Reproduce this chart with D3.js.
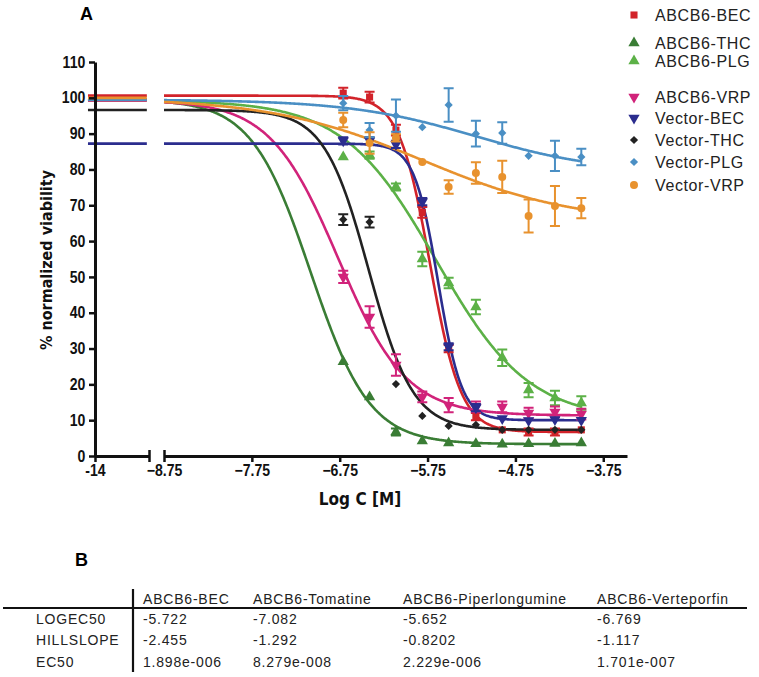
<!DOCTYPE html>
<html>
<head>
<meta charset="utf-8">
<script src="https://cdn.jsdelivr.net/npm/d3@7"></script>
<style>
  body { margin: 0; background: #fff; }
  svg { display: block; }
  .tick text { font-family: "Liberation Sans", Arial, sans-serif; font-weight: bold; }
  .axis-title { font-family: "DejaVu Sans Condensed", sans-serif; font-weight: bold; }
  .legend text, .tbl text { font-family: "Liberation Sans", Arial, sans-serif; }
</style>
</head>
<body>
<script>
// log concentrations (M) of the data points
const logC = [-6.71, -6.41, -6.11, -5.81, -5.51, -5.20, -4.90, -4.60, -4.30, -4.00];

const seriesNames = ['ABCB6-BEC', 'ABCB6-THC', 'ABCB6-PLG', 'ABCB6-VRP', 'Vector-BEC', 'Vector-THC', 'Vector-PLG', 'Vector-VRP'];
const seriesColors = ['#d2232a', '#3a7d35', '#5cb147', '#d1237a', '#2b2d8e', '#222222', '#4a8fc4', '#e8922e'];
const seriesSymbols = ['square', 'triUp', 'triUp', 'triDown', 'triDown', 'diamond', 'diamond', 'circle'];

// mean viability per concentration
const becA = [101.3, 100.2, 91, 68, 30, 11, 7.3, 6.7, 6.7, 7.3];
const thcA = [26.3, 16.5, 6.7, 4.2, 3.6, 3.4, 3.3, 3.4, 3.5, 3.6];
const plgA = [83.5, 84, 75.1, 55, 48.3, 41.6, 27.4, 18.4, 16.2, 14.8];
const vrpA = [50, 38.8, 25.4, 16.5, 14.2, 13.7, 13.7, 12, 12.3, 11.7];
const becV = [88, 88, 87, 71, 30.5, 13.5, 10.5, 9.9, 10.2, 10];
const thcV = [66, 65.3, 20.1, 11.2, 8.4, 8.7, 7.3, 7.3, 7.3, 7.3];
const plgV = [98.5, 91, 95, 91.8, 98, 90, 90.2, 83.8, 83.8, 83.5];
const vrpV = [93.8, 87.4, 88.8, 82.1, 75.1, 79, 77.9, 67, 69.8, 69.2];

// error (SEM)
const becAErr = [1.5, 1.5, 1.5, 1.5, 1, 1, 0.5, 1, 1, 0.5];
const thcAErr = [0.5, 0.5, 1, 0.5, 0.3, 0.3, 0.3, 0.3, 0.3, 0.3];
const plgAErr = [0.5, 1, 1, 2, 1.5, 2, 2.3, 2, 2, 1.9];
const vrpAErr = [1.7, 3, 3, 1.5, 2, 1.5, 1.5, 1.5, 1.5, 1.5];
const becVErr = [1, 1, 1, 1, 1, 1, 0.5, 0.5, 0.5, 0.5];
const thcVErr = [1.5, 1.5, 0, 0, 0, 0, 0, 0, 0, 0];
const plgVErr = [2, 2, 4.5, 0, 4.7, 3.6, 3, 0, 4.2, 2.3];
const vrpVErr = [2, 3, 1, 0, 1.9, 3, 4.5, 4.6, 5.6, 2.8];

// fitted dose-response parameters
const fitTop = [100.6, 99.5, 99.3, 99.3, 87.2, 96.6, 99.5, 100];
const fitBottom = [6.7, 3.3, 10, 11.3, 10, 7.3, 79, 65];
const fitLogEC50 = [-5.722, -7.082, -5.652, -6.769, -5.63, -6.42, -5.2, -5.8];
const fitHill = [-2.455, -1.292, -0.8202, -1.117, -3.2, -1.72, -0.6, -0.5];

// table B
const tblCols = ['ABCB6-BEC', 'ABCB6-Tomatine', 'ABCB6-Piperlongumine', 'ABCB6-Verteporfin'];
const tblRows = ['LOGEC50', 'HILLSLOPE', 'EC50'];
const tblValues = [
    ['-5.722', '-7.082', '-5.652', '-6.769'],
    ['-2.455', '-1.292', '-0.8202', '-1.117'],
    ['1.898e-006', '8.279e-008', '2.229e-006', '1.701e-007']
];

const yTicks = d3.range(0, 111, 10);
const x2Ticks = [-8.75, -7.75, -6.75, -5.75, -4.75, -3.75];

const seriesValues = [becA, thcA, plgA, vrpA, becV, thcV, plgV, vrpV];
const seriesErr = [becAErr, thcAErr, plgAErr, vrpAErr, becVErr, thcVErr, plgVErr, vrpVErr];

const width = 759, height = 677;
const svg = d3.select('body').append('svg')
    .attr('width', width).attr('height', height)
    .attr('viewBox', `0 0 ${width} ${height}`);
svg.append('rect').attr('width', width).attr('height', height).attr('fill', '#fff');

const y = d3.scaleLinear().domain([0, 110]).range([456, 62]);
const x1 = d3.scaleLinear().domain([-14, -13]).range([95, 149]);
const x2 = d3.scaleLinear().domain([-8.75, -3.48]).range([164, 627]);

const fit = (i, x) => fitBottom[i] + (fitTop[i] - fitBottom[i]) / (1 + Math.pow(10, (fitLogEC50[i] - x) * fitHill[i]));

const symbolPath = type => {
    if (type === 'square') return d3.symbol(d3.symbolSquare, 50)();
    if (type === 'circle') return d3.symbol(d3.symbolCircle, 50)();
    if (type === 'triUp' || type === 'triDown') return d3.symbol(d3.symbolTriangle, 55)();
    return d3.symbol(d3.symbolSquare, 34)();
};
const symbolRotate = type => type === 'triDown' ? 180 : (type === 'diamond' ? 45 : 0);

// curves
const line1 = d3.line().x(d => x1(d[0])).y(d => y(d[1]));
const line2 = d3.line().x(d => x2(d[0])).y(d => y(d[1]));
const curves = svg.append('g').attr('fill', 'none').attr('stroke-width', 2.6);
seriesNames.forEach((name, i) => {
    curves.append('path')
        .attr('d', line1([[-14.13, fit(i, -14)], [-13.04, fit(i, -13.04)]]))
        .attr('stroke', seriesColors[i]);
    const xs = d3.range(-8.75, -3.999, 0.01);
    curves.append('path')
        .attr('d', line2(xs.map(x => [x, fit(i, x)])))
        .attr('stroke', seriesColors[i]);
});

// error bars and points
seriesNames.forEach((name, i) => {
    const g = svg.append('g').attr('stroke', seriesColors[i]).attr('fill', seriesColors[i]);
    logC.forEach((c, j) => {
        const v = seriesValues[i][j], e = seriesErr[i][j];
        if (e > 0.8) {
            const px = x2(c);
            g.append('path')
                .attr('d', `M${px},${y(v - e)}V${y(v + e)}M${px - 5},${y(v - e)}H${px + 5}M${px - 5},${y(v + e)}H${px + 5}`)
                .attr('fill', 'none').attr('stroke-width', 2);
        }
        g.append('path')
            .attr('d', symbolPath(seriesSymbols[i]))
            .attr('stroke', 'none')
            .attr('transform', `translate(${x2(c)},${y(v)}) rotate(${symbolRotate(seriesSymbols[i])})`);
    });
});

// axes
const yAxis = svg.append('g').attr('transform', 'translate(95,0)')
    .call(d3.axisLeft(y).tickValues(yTicks).tickSize(6).tickSizeOuter(0).tickPadding(5));
const xAxis1 = svg.append('g').attr('transform', 'translate(0,456)')
    .call(d3.axisBottom(x1).tickValues([-14, -13]).tickFormat(d => d === -14 ? '-14' : '').tickSize(6).tickSizeOuter(0).tickPadding(3));
const xAxis2 = svg.append('g').attr('transform', 'translate(0,456)')
    .call(d3.axisBottom(x2).tickValues(x2Ticks).tickFormat(d3.format('.2f')).tickSize(6).tickSizeOuter(0).tickPadding(3));
[yAxis, xAxis1, xAxis2].forEach(a => {
    a.select('.domain').attr('stroke', '#111').attr('stroke-width', 3);
    a.selectAll('.tick line').attr('stroke', '#111').attr('stroke-width', 2.5);
    a.selectAll('.tick text').attr('fill', '#111').attr('font-size', 16)
        .attr('transform', 'scale(0.88,1)');
});
// break ends: ticks extending both sides
xAxis1.selectAll('.tick').filter(d => d === -13).select('line').attr('y1', -6);
xAxis2.selectAll('.tick').filter(d => d === -8.75).select('line').attr('y1', -6);

svg.append('text').attr('class', 'axis-title')
    .attr('transform', 'translate(52,260) rotate(-90)')
    .attr('text-anchor', 'middle').attr('font-size', 16).attr('fill', '#111')
    .text('% normalized viability');
svg.append('text').attr('class', 'axis-title')
    .attr('x', 360).attr('y', 505)
    .attr('text-anchor', 'middle').attr('font-size', 17).attr('fill', '#111')
    .text('Log C [M]');

svg.append('text').attr('x', 80).attr('y', 20)
    .attr('font-family', 'Liberation Sans, Arial, sans-serif').attr('font-weight', 'bold').attr('font-size', 18)
    .text('A');
svg.append('text').attr('x', 75).attr('y', 566)
    .attr('font-family', 'Liberation Sans, Arial, sans-serif').attr('font-weight', 'bold').attr('font-size', 18)
    .text('B');

// legend
const legendY = [15, 43, 61, 97, 118, 140, 162, 185];
const legend = svg.append('g').attr('class', 'legend');
seriesNames.forEach((name, i) => {
    legend.append('path')
        .attr('d', symbolPath(seriesSymbols[i]))
        .attr('fill', seriesColors[i])
        .attr('transform', `translate(634,${legendY[i]}) rotate(${symbolRotate(seriesSymbols[i])})`);
    legend.append('text')
        .attr('x', 655).attr('y', legendY[i]).attr('dy', '0.35em')
        .attr('font-size', 16).attr('letter-spacing', 0.6).attr('fill', '#222')
        .text(name);
});

// table
const tbl = svg.append('g').attr('class', 'tbl').attr('font-size', 14).attr('letter-spacing', 0.8).attr('fill', '#222');
const colX = [143, 253, 403, 597];
tblCols.forEach((c, k) => tbl.append('text').attr('x', colX[k]).attr('y', 599).attr('dy', '0.35em').text(c));
tblRows.forEach((r, j) => {
    const ry = 619 + j * 21.5;
    tbl.append('text').attr('x', 36).attr('y', ry).attr('dy', '0.35em').text(r);
    tblValues[j].forEach((v, k) => tbl.append('text').attr('x', colX[k]).attr('y', ry).attr('dy', '0.35em').text(v));
});
svg.append('line').attr('x1', 3).attr('x2', 747).attr('y1', 608).attr('y2', 608).attr('stroke', '#111').attr('stroke-width', 2.2);
svg.append('line').attr('x1', 133).attr('x2', 133).attr('y1', 589).attr('y2', 672).attr('stroke', '#111').attr('stroke-width', 2.2);
</script>
</body>
</html>
